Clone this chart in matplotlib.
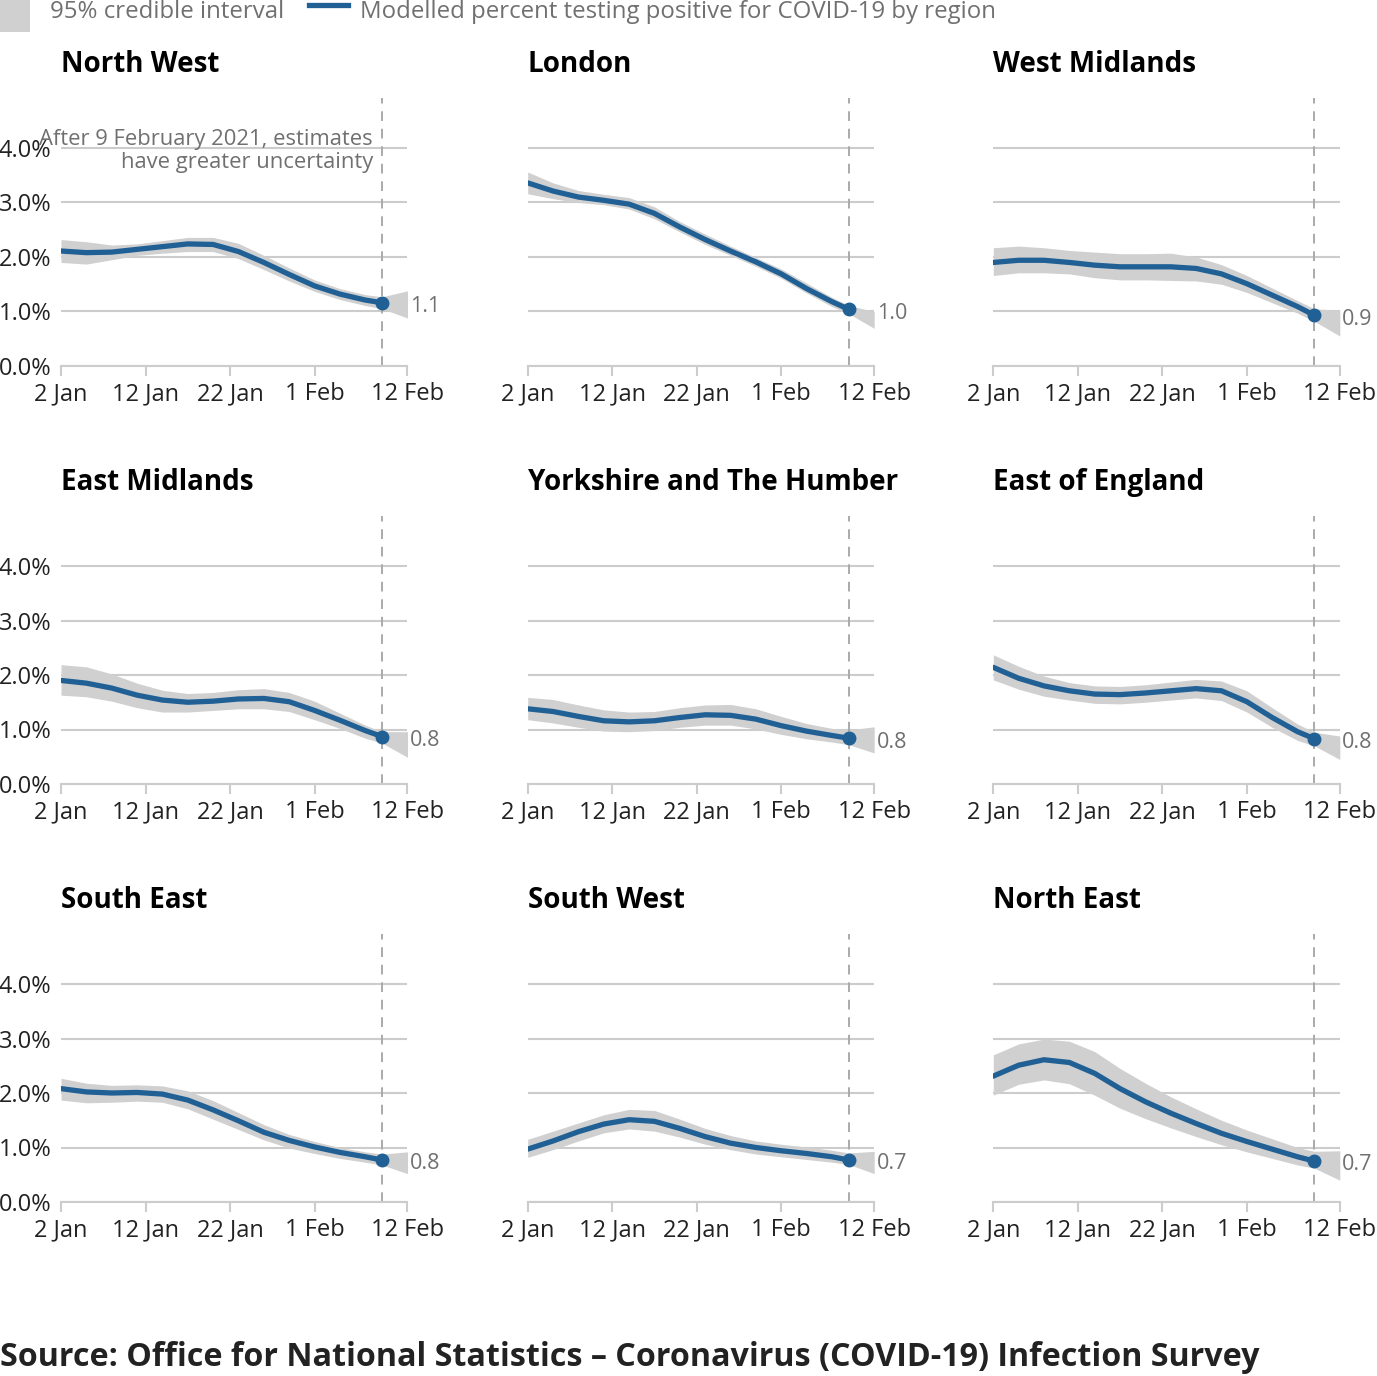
import matplotlib.pyplot as plt
from matplotlib.patches import Rectangle
from matplotlib.lines import Line2D

plt.rcParams["font.family"] = ["Open Sans", "DejaVu Sans"]

# days after 2 Jan 2021 (38 = 9 Feb, 41 = 12 Feb)
days = [0, 3, 6, 9, 12, 15, 18, 21, 24, 27, 30, 33, 36, 38, 41]
tick_days = [0, 10, 20, 30, 41]
tick_labels = ["2 Jan", "12 Jan", "22 Jan", "1 Feb", "12 Feb"]

regions = ["North West", "London", "West Midlands",
           "East Midlands", "Yorkshire and The Humber", "East of England",
           "South East", "South West", "North East"]
latest = ["1.1", "1.0", "0.9", "0.8", "0.8", "0.8", "0.8", "0.7", "0.7"]

# modelled estimate (to 9 Feb)
est_nw = [2.11, 2.08, 2.09, 2.14, 2.19, 2.24, 2.23, 2.10, 1.90, 1.68, 1.47, 1.32, 1.21, 1.16]
est_lon = [3.36, 3.21, 3.10, 3.04, 2.97, 2.80, 2.55, 2.32, 2.11, 1.91, 1.69, 1.42, 1.18, 1.04]
est_wm = [1.90, 1.94, 1.94, 1.90, 1.85, 1.82, 1.82, 1.82, 1.79, 1.69, 1.51, 1.30, 1.09, 0.93]
est_em = [1.90, 1.85, 1.76, 1.63, 1.54, 1.50, 1.52, 1.56, 1.57, 1.51, 1.35, 1.17, 0.98, 0.87]
est_yh = [1.38, 1.33, 1.24, 1.16, 1.14, 1.16, 1.22, 1.27, 1.26, 1.19, 1.07, 0.97, 0.89, 0.84]
est_ee = [2.14, 1.94, 1.80, 1.71, 1.65, 1.64, 1.67, 1.71, 1.75, 1.71, 1.51, 1.22, 0.96, 0.83]
est_se = [2.08, 2.02, 2.00, 2.01, 1.98, 1.87, 1.69, 1.49, 1.28, 1.13, 1.01, 0.91, 0.83, 0.77]
est_sw = [0.97, 1.12, 1.29, 1.43, 1.51, 1.48, 1.35, 1.20, 1.08, 1.00, 0.94, 0.89, 0.83, 0.77]
est_ne = [2.31, 2.51, 2.61, 2.56, 2.36, 2.08, 1.84, 1.63, 1.44, 1.26, 1.11, 0.97, 0.83, 0.75]

# 95% credible interval (to 12 Feb)
up_nw = [2.32, 2.28, 2.22, 2.24, 2.30, 2.36, 2.36, 2.25, 2.03, 1.80, 1.58, 1.42, 1.31, 1.27, 1.38]
lo_nw = [1.90, 1.87, 1.95, 2.03, 2.07, 2.10, 2.10, 1.97, 1.77, 1.56, 1.37, 1.22, 1.11, 1.05, 0.88]
up_lon = [3.56, 3.36, 3.22, 3.15, 3.09, 2.92, 2.65, 2.42, 2.20, 1.99, 1.78, 1.52, 1.26, 1.11, 1.00]
lo_lon = [3.16, 3.07, 3.00, 2.96, 2.88, 2.70, 2.46, 2.23, 2.03, 1.83, 1.61, 1.34, 1.09, 0.96, 0.69]
up_wm = [2.17, 2.20, 2.17, 2.12, 2.09, 2.06, 2.06, 2.07, 2.00, 1.86, 1.66, 1.43, 1.20, 1.05, 1.02]
lo_wm = [1.66, 1.71, 1.71, 1.69, 1.62, 1.58, 1.58, 1.57, 1.56, 1.50, 1.35, 1.16, 0.97, 0.82, 0.55]
up_em = [2.19, 2.15, 2.02, 1.85, 1.72, 1.66, 1.68, 1.73, 1.75, 1.68, 1.52, 1.30, 1.08, 0.96, 0.96]
lo_em = [1.63, 1.60, 1.52, 1.40, 1.32, 1.32, 1.35, 1.38, 1.38, 1.33, 1.18, 1.02, 0.84, 0.75, 0.49]
up_yh = [1.59, 1.55, 1.45, 1.36, 1.32, 1.33, 1.40, 1.45, 1.46, 1.38, 1.24, 1.11, 1.02, 0.99, 1.05]
lo_yh = [1.18, 1.12, 1.04, 0.97, 0.96, 0.98, 1.04, 1.08, 1.08, 1.01, 0.91, 0.83, 0.77, 0.72, 0.57]
up_ee = [2.37, 2.16, 1.98, 1.86, 1.80, 1.79, 1.82, 1.87, 1.92, 1.89, 1.71, 1.40, 1.10, 0.95, 0.88]
lo_ee = [1.91, 1.74, 1.61, 1.54, 1.48, 1.47, 1.50, 1.54, 1.58, 1.53, 1.32, 1.04, 0.80, 0.70, 0.45]
up_se = [2.27, 2.18, 2.14, 2.15, 2.13, 2.04, 1.86, 1.64, 1.42, 1.24, 1.11, 1.00, 0.92, 0.88, 0.92]
lo_se = [1.87, 1.82, 1.83, 1.85, 1.83, 1.71, 1.52, 1.33, 1.14, 0.99, 0.89, 0.80, 0.73, 0.68, 0.52]
up_sw = [1.15, 1.30, 1.45, 1.60, 1.70, 1.68, 1.52, 1.35, 1.22, 1.12, 1.06, 1.01, 0.95, 0.90, 0.93]
lo_sw = [0.82, 0.96, 1.12, 1.27, 1.34, 1.30, 1.19, 1.06, 0.96, 0.88, 0.83, 0.78, 0.73, 0.69, 0.52]
up_ne = [2.70, 2.90, 2.99, 2.95, 2.76, 2.45, 2.18, 1.93, 1.71, 1.50, 1.32, 1.16, 1.00, 0.93, 0.94]
lo_ne = [1.96, 2.16, 2.24, 2.17, 1.96, 1.72, 1.53, 1.36, 1.20, 1.05, 0.92, 0.80, 0.68, 0.62, 0.40]

estimates = [est_nw, est_lon, est_wm, est_em, est_yh, est_ee, est_se, est_sw, est_ne]
uppers = [up_nw, up_lon, up_wm, up_em, up_yh, up_ee, up_se, up_sw, up_ne]
lowers = [lo_nw, lo_lon, lo_wm, lo_em, lo_yh, lo_ee, lo_se, lo_sw, lo_ne]

BLUE = "#206095"
BAND = "#d0d0d0"
GRID = "#cccccc"
GREY_TXT = "#707070"

W, H = 1377, 1376
fig = plt.figure(figsize=(W / 100, H / 100), dpi=100)

col_left = [61, 527.7, 993.3]
row_zero = [366, 784, 1202]
ax_w = 346.5
ax_h = 5 * 54.5

for i, name in enumerate(regions):
    r, c = divmod(i, 3)
    ax = fig.add_axes([col_left[c] / W, 1 - row_zero[r] / H, ax_w / W, ax_h / H])
    n = len(estimates[i])
    ax.fill_between(days, lowers[i], uppers[i], color=BAND, lw=0, zorder=1)
    ax.plot(days[:n], estimates[i], color=BLUE, lw=3.8, solid_capstyle="round",
            solid_joinstyle="round", zorder=3)
    ax.plot(days[n - 1], estimates[i][-1], "o", color=BLUE, ms=9, zorder=4)
    ax.axvline(38, ymin=0, ymax=0.985, color="#aaaaaa", lw=1.4, dashes=(5, 4), zorder=2)
    ax.text(41.3, estimates[i][-1] - 0.07, latest[i], color=GREY_TXT, fontsize=15.5,
            va="center", ha="left", clip_on=False)

    ax.set_xlim(0, 41)
    ax.set_ylim(0, 5)
    ax.set_yticks([0, 1, 2, 3, 4])
    ax.yaxis.grid(True, color=GRID, lw=1.5, zorder=0)
    ax.set_axisbelow(True)
    ax.set_xticks(tick_days)
    ax.set_xticklabels(tick_labels)
    ax.tick_params(axis="x", length=7, width=1.5, color=GRID, labelsize=17,
                   labelcolor="#222222", pad=4.5)
    ax.tick_params(axis="y", length=0, labelsize=17, labelcolor="#222222", pad=7)
    if c == 0:
        ax.set_yticklabels(["0.0%", "1.0%", "2.0%", "3.0%", "4.0%"])
    else:
        ax.set_yticklabels([])
    for s in ["top", "right", "left"]:
        ax.spines[s].set_visible(False)
    ax.spines["bottom"].set_color(GRID)
    ax.spines["bottom"].set_linewidth(1.5)
    ax.patch.set_alpha(0)

    ax.text(0, 1.105, name, transform=ax.transAxes, fontsize=20, fontweight="bold",
            ha="left", va="center", color="#000000")

    if i == 0:
        ax.text(36.9, 3.94, "After 9 February 2021, estimates\nhave greater uncertainty",
                ha="right", va="center", fontsize=15.8, color=GREY_TXT, linespacing=1.12)

# legend across the top
fig.patches.append(Rectangle((0, 1 - 32 / H), 30 / W, 32 / H, transform=fig.transFigure,
                             color=BAND, lw=0))
fig.text(50 / W, 1 - 12 / H, "95% credible interval", fontsize=17.3, color=GREY_TXT,
         ha="left", va="center")
fig.lines.append(Line2D([309 / W, 348 / W], [1 - 5 / H, 1 - 5 / H], transform=fig.transFigure,
                        color=BLUE, lw=3.8))
fig.text(360 / W, 1 - 12 / H, "Modelled percent testing positive for COVID-19 by region",
         fontsize=17.3, color=GREY_TXT, ha="left", va="center")

fig.text(0, 1 - 1358 / H,
         "Source: Office for National Statistics \u2013 Coronavirus (COVID-19) Infection Survey",
         fontsize=23.2, fontweight="bold", color="#222222", ha="left", va="center")

fig.savefig("out.png", dpi=100)
